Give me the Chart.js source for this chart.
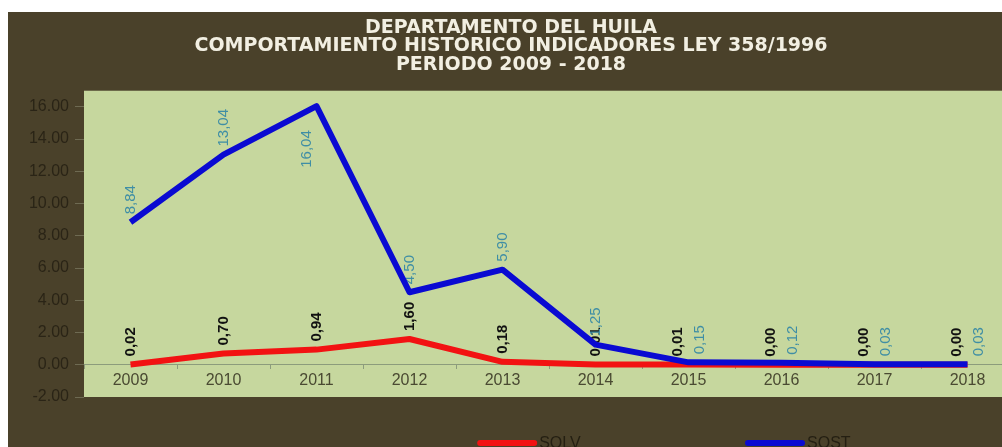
<!DOCTYPE html>
<html>
<head>
<meta charset="utf-8">
<script src="https://cdn.jsdelivr.net/npm/chart.js@4"></script>
<style>
  html, body { margin: 0; padding: 0; background: #ffffff; overflow: hidden; }
  #wrap { position: absolute; left: 8px; top: 12px; width: 1020px; height: 445px; background: #4a412a; }
</style>
</head>
<body>
<div id="wrap"><canvas id="huila"></canvas></div>
<script>
// Data
const years = ['2009', '2010', '2011', '2012', '2013', '2014', '2015', '2016', '2017', '2018'];
const solv = [0.02, 0.70, 0.94, 1.60, 0.18, 0.01, 0.01, 0.00, 0.00, 0.00];
const sost = [8.84, 13.04, 16.04, 4.50, 5.90, 1.25, 0.15, 0.12, 0.03, 0.03];
const titleLines = [
    'DEPARTAMENTO DEL HUILA',
    'COMPORTAMIENTO HISTÓRICO INDICADORES LEY 358/1996',
    'PERIODO 2009 - 2018'
];

const fmt = v => v.toFixed(2).replace('.', ',');

// green plot background
const plotBg = {
    id: 'plotBg',
    beforeDraw(chart) {
        const { ctx, chartArea: a } = chart;
        ctx.save();
        ctx.fillStyle = '#c6d79e';
        ctx.fillRect(a.left, a.top, a.right - a.left, a.bottom - a.top);
        ctx.restore();
    }
};

// vertical value labels, drawn under the lines
const valueLabels = {
    id: 'valueLabels',
    beforeDatasetsDraw(chart) {
        const ctx = chart.ctx;
        const a = chart.chartArea;
        const m0 = chart.getDatasetMeta(0);
        const m1 = chart.getDatasetMeta(1);
        ctx.save();
        chart.data.datasets.forEach((ds, di) => {
            const meta = chart.getDatasetMeta(di);
            const other = di === 0 ? m1 : m0;
            ctx.font = ds.labelFont;
            ctx.fillStyle = ds.labelColor;
            ctx.textBaseline = 'middle';
            meta.data.forEach((pt, i) => {
                const txt = fmt(ds.data[i]);
                const w = ctx.measureText(txt).width;
                let x = pt.x;
                let y = pt.y - 8;
                // both labels near each other -> put them side by side
                if (Math.abs(pt.y - other.data[i].y) < 15) {
                    x += di === 0 ? -11 : 11;
                }
                ctx.save();
                if (y - w < a.top) {
                    // no room above, go below the point
                    ctx.translate(x - 10, pt.y + 24 + w);
                } else {
                    ctx.translate(x, y);
                }
                ctx.rotate(-Math.PI / 2);
                ctx.textAlign = 'left';
                ctx.fillText(txt, 0, 0);
                ctx.restore();
            });
        });
        ctx.restore();
    }
};

// legend at the bottom, wide spacing like the original
const bottomLegend = {
    id: 'bottomLegend',
    afterDraw(chart) {
        const { ctx, chartArea: a } = chart;
        ctx.save();
        ctx.font = '16px "Liberation Sans", Arial, sans-serif';
        ctx.textBaseline = 'middle';
        chart.data.datasets.forEach((ds, i) => {
            const x0 = a.left + a.width * (0.426 + i * 0.288);
            const y = 431;
            ctx.strokeStyle = ds.borderColor;
            ctx.lineWidth = 6;
            ctx.lineCap = 'round';
            ctx.beginPath();
            ctx.moveTo(x0, y);
            ctx.lineTo(x0 + 54, y);
            ctx.stroke();
            ctx.fillStyle = '#241f12';
            ctx.fillText(ds.label, x0 + 59, y + 1);
        });
        ctx.restore();
    }
};

new Chart(document.getElementById('huila'), {
    type: 'line',
    data: {
        labels: years,
        datasets: [
            {
                label: 'SOLV',
                data: solv,
                borderColor: '#f21212',
                borderWidth: 6,
                pointRadius: 0,
                tension: 0,
                borderJoinStyle: 'round',
                order: 1,
                labelFont: 'bold 15px "Liberation Sans", Arial, sans-serif',
                labelColor: '#111111'
            },
            {
                label: 'SOST',
                data: sost,
                borderColor: '#0a0ad2',
                borderWidth: 6,
                pointRadius: 0,
                tension: 0,
                borderJoinStyle: 'round',
                order: 0,
                labelFont: '15px "Liberation Sans", Arial, sans-serif',
                labelColor: '#3f8ea5'
            }
        ]
    },
    options: {
        responsive: true,
        maintainAspectRatio: false,
        animation: false,
        layout: { padding: { left: 0, right: 14, top: 0, bottom: 60 } },
        plugins: {
            legend: { display: false },
            tooltip: { enabled: false },
            title: {
                display: true,
                text: titleLines,
                color: '#f2efe2',
                font: { family: '"DejaVu Sans", sans-serif', size: 19, weight: 'bold', lineHeight: 0.96 },
                padding: { top: 7, bottom: 17 }
            }
        },
        scales: {
            x: {
                position: { y: 0 },
                offset: true,
                grid: { offset: true, drawOnChartArea: false, tickLength: 4, color: '#8c9c7c' },
                border: { color: '#8c9c7c', width: 1 },
                ticks: {
                    color: '#4a4a32',
                    padding: 2,
                    font: { family: '"Liberation Sans", Arial, sans-serif', size: 16 }
                }
            },
            y: {
                min: -2,
                max: 17,
                afterFit(scale) { scale.width = 76; },
                grid: { drawOnChartArea: false, tickLength: 9, color: '#6e6a52' },
                border: { display: false },
                ticks: {
                    stepSize: 2,
                    includeBounds: false,
                    padding: 6,
                    color: '#2a2416',
                    font: { family: '"Liberation Sans", Arial, sans-serif', size: 16 },
                    callback: v => v.toFixed(2)
                }
            }
        }
    },
    plugins: [plotBg, valueLabels, bottomLegend]
});
</script>
</body>
</html>
